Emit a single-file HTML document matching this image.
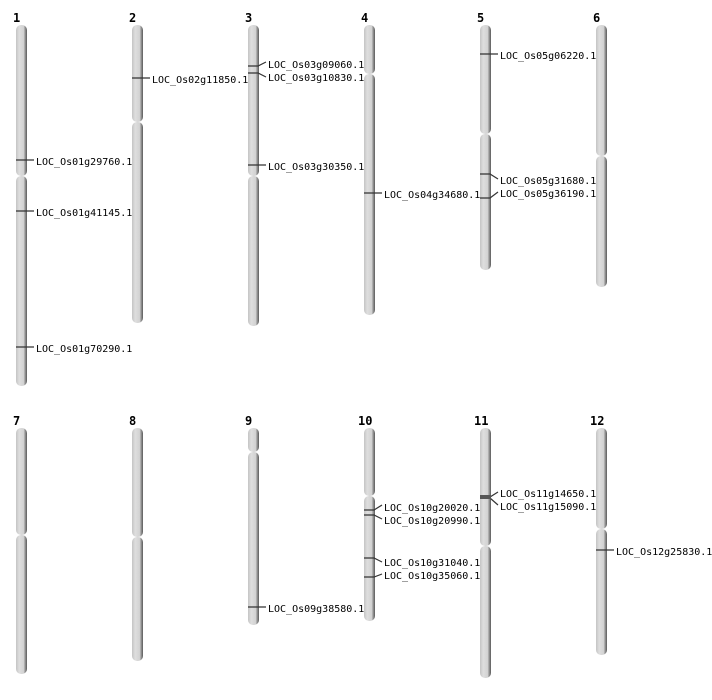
<!DOCTYPE html>
<html><head><meta charset="utf-8"><style>
html,body{margin:0;padding:0;background:#fff;width:712px;height:700px;overflow:hidden}
svg text{font-family:"DejaVu Sans Mono","Liberation Mono",monospace;font-size:10px;fill:#000}
svg text.n{font-family:"DejaVu Sans Mono","Liberation Mono",monospace;font-weight:bold;font-size:12px}
</style></head><body>
<svg width="712" height="700" xmlns="http://www.w3.org/2000/svg">
<defs>
<linearGradient id="g" x1="0" x2="1" y1="0" y2="0">
<stop offset="0" stop-color="#c4c4c4"/><stop offset="0.3" stop-color="#dedede"/><stop offset="0.7" stop-color="#d2d2d2"/><stop offset="0.8" stop-color="#a0a0a0"/><stop offset="1" stop-color="#5a5a5a"/>
</linearGradient>
</defs>
<g fill="url(#g)">
<!-- row 1 -->
<rect x="16" y="25" width="11" height="151" rx="5"/><rect x="16" y="176" width="11" height="210" rx="5"/>
<rect x="132" y="25" width="11" height="97" rx="5"/><rect x="132" y="122" width="11" height="201" rx="5"/>
<rect x="248" y="25" width="11" height="151" rx="5"/><rect x="248" y="176" width="11" height="150" rx="5"/>
<rect x="364" y="25" width="11" height="49" rx="5"/><rect x="364" y="74" width="11" height="241" rx="5"/>
<rect x="480" y="25" width="11" height="109" rx="5"/><rect x="480" y="134" width="11" height="136" rx="5"/>
<rect x="596" y="25" width="11" height="131" rx="5"/><rect x="596" y="156" width="11" height="131" rx="5"/>
<!-- row 2 -->
<rect x="16" y="428" width="11" height="107" rx="5"/><rect x="16" y="535" width="11" height="139" rx="5"/>
<rect x="132" y="428" width="11" height="109" rx="5"/><rect x="132" y="537" width="11" height="124" rx="5"/>
<rect x="248" y="428" width="11" height="24" rx="5"/><rect x="248" y="452" width="11" height="173" rx="5"/>
<rect x="364" y="428" width="11" height="68" rx="5"/><rect x="364" y="496" width="11" height="125" rx="5"/>
<rect x="480" y="428" width="11" height="118" rx="5"/><rect x="480" y="546" width="11" height="132" rx="5"/>
<rect x="596" y="428" width="11" height="101" rx="5"/><rect x="596" y="529" width="11" height="126" rx="5"/>
</g>
<g class="nums">
<text class="n" x="13" y="22">1</text><text class="n" x="129" y="22">2</text><text class="n" x="245" y="22">3</text><text class="n" x="361" y="22">4</text><text class="n" x="477" y="22">5</text><text class="n" x="593" y="22">6</text>
<text class="n" x="13" y="425">7</text><text class="n" x="129" y="425">8</text><text class="n" x="245" y="425">9</text><text class="n" x="358" y="425">10</text><text class="n" x="474" y="425">11</text><text class="n" x="590" y="425">12</text>
</g>
<g stroke="#333" stroke-width="1.2" fill="none">
<path d="M16 160H34M16 211H34M16 347H34"/>
<path d="M132 78H150"/>
<path d="M248 66H258L266 62M248 73H258L266 77M248 165H266"/>
<path d="M364 193H382"/>
<path d="M480 54H498M480 174H490L498 179M480 198H490L498 192"/>
<path d="M248 607H266"/>
<path d="M364 510H374L382 505M364 515H374L382 519M364 558H374L382 562M364 577H374L382 574"/>
<path d="M480 497H490L498 492M480 498H490L498 505"/>
<path d="M596 550H614"/>
</g>
<rect x="480" y="495" width="11" height="4" fill="#555"/>
<g>
<text x="36" y="165">LOC_Os01g29760.1</text>
<text x="36" y="216">LOC_Os01g41145.1</text>
<text x="36" y="352">LOC_Os01g70290.1</text>
<text x="152" y="83">LOC_Os02g11850.1</text>
<text x="268" y="68">LOC_Os03g09060.1</text>
<text x="268" y="81">LOC_Os03g10830.1</text>
<text x="268" y="170">LOC_Os03g30350.1</text>
<text x="384" y="198">LOC_Os04g34680.1</text>
<text x="500" y="59">LOC_Os05g06220.1</text>
<text x="500" y="184">LOC_Os05g31680.1</text>
<text x="500" y="197">LOC_Os05g36190.1</text>
<text x="268" y="612">LOC_Os09g38580.1</text>
<text x="384" y="511">LOC_Os10g20020.1</text>
<text x="384" y="524">LOC_Os10g20990.1</text>
<text x="384" y="566">LOC_Os10g31040.1</text>
<text x="384" y="579">LOC_Os10g35060.1</text>
<text x="500" y="497">LOC_Os11g14650.1</text>
<text x="500" y="510">LOC_Os11g15090.1</text>
<text x="616" y="555">LOC_Os12g25830.1</text>
</g>
</svg>
</body></html>
